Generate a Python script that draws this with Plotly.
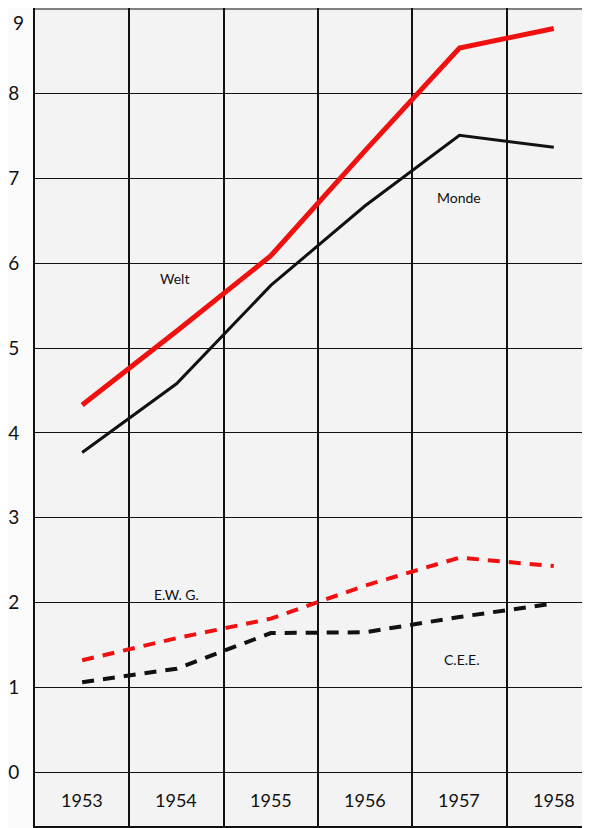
import plotly.graph_objects as go

years = ["1953", "1954", "1955", "1956", "1957", "1958"]
welt = [4.33, 5.20, 6.09, 7.33, 8.54, 8.77]
monde = [3.77, 4.58, 5.74, 6.68, 7.51, 7.37]
ewg = [1.32, 1.58, 1.81, 2.20, 2.53, 2.43]
cee = [1.06, 1.22, 1.64, 1.65, 1.83, 1.99]
y_ticks = list(range(10))

INK = "#111111"
FONT = "Lato, 'Open Sans', sans-serif"

xpos = list(range(len(years)))

fig = go.Figure()
fig.add_trace(go.Scatter(x=xpos, y=welt, mode="lines", name="Welt",
                         line=dict(color="#f01010", width=5)))
fig.add_trace(go.Scatter(x=xpos, y=monde, mode="lines", name="Monde",
                         line=dict(color=INK, width=3)))
fig.add_trace(go.Scatter(x=xpos, y=ewg, mode="lines", name="E.W.G.",
                         line=dict(color="#f01010", width=4, dash="12px,9px")))
fig.add_trace(go.Scatter(x=xpos, y=cee, mode="lines", name="C.E.E.",
                         line=dict(color=INK, width=4, dash="12px,9px")))

# year labels inside the bottom box
for i, yr in enumerate(years):
    fig.add_annotation(x=i, y=-0.33, text=yr, showarrow=False,
                       font=dict(size=18, color=INK, family=FONT))

labels = [("Welt", 0.98, 5.82), ("Monde", 4.0, 6.78),
          ("E.W. G.", 1.0, 2.09), ("C.E.E.", 4.02, 1.33)]
for txt, lx, ly in labels:
    fig.add_annotation(x=lx, y=ly, text=txt, showarrow=False,
                       font=dict(size=14, color=INK, family=FONT))

# top tick label sits on the figure edge and gets clipped, so draw it below the line
fig.add_annotation(xref="paper", x=0, xanchor="right", xshift=-9,
                   y=y_ticks[-1], yanchor="top", text=str(y_ticks[-1]),
                   showarrow=False, font=dict(size=19, color=INK, family=FONT))

# the page adds an 8px body margin, so the figure is sized to fit after it
fig.update_layout(
    width=582, height=820,
    margin=dict(l=23, r=0, t=0, b=2),
    paper_bgcolor="#fafafa",
    plot_bgcolor="#f3f3f3",
    showlegend=False,
    font=dict(family=FONT, color=INK),
    xaxis=dict(
        range=[-0.5, 5.384], showticklabels=False, ticks="",
        showgrid=False, zeroline=False,
        showline=True, linecolor=INK, linewidth=2,
        minor=dict(tickvals=[0.5, 1.5, 2.5, 3.5, 4.5], showgrid=True,
                   gridcolor=INK, gridwidth=1.5, ticks=""),
    ),
    yaxis=dict(
        range=[-0.635, 9.012], tickvals=y_ticks[:-1],
        ticktext=[str(v) for v in y_ticks[:-1]],
        tickfont=dict(size=19, color=INK, family=FONT),
        showgrid=True, gridcolor=INK, gridwidth=1.2,
        zeroline=False, showline=True, linecolor=INK, linewidth=2,
        ticks="", ticklabelstandoff=10,
    ),
    shapes=[dict(type="line", xref="paper", x0=0, x1=1, yref="y",
                 y0=y_ticks[-1], y1=y_ticks[-1],
                 line=dict(color=INK, width=1.2))],
)

fig.write_html("out.html")
